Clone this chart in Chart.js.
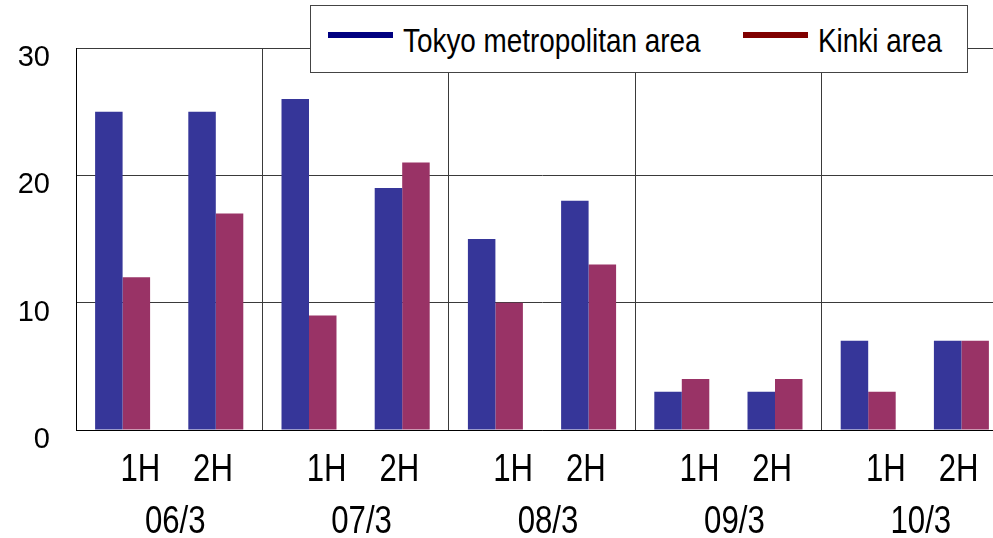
<!DOCTYPE html>
<html>
<head>
<meta charset="utf-8">
<script src="https://cdn.jsdelivr.net/npm/chart.js@4.4.1/dist/chart.umd.min.js"></script>
<style>
  html, body { margin: 0; padding: 0; background: #fff; overflow: hidden; }
  #wrap { position: relative; width: 993px; height: 538px; overflow: hidden; }
  #chart { position: absolute; left: 0; top: 0; }
  .legend {
    position: absolute; left: 310px; top: 5px; width: 658px; height: 68px;
    box-sizing: border-box; border: 1px solid #444; background: #fff;
    font-family: 'Liberation Sans', Arial, sans-serif;
    font-size: 34px; color: #000;
  }
  .legend .item { position: absolute; top: 0; height: 66px; white-space: nowrap; }
  .legend .swatch { position: absolute; top: 26px; width: 65px; height: 6px; }
  .legend .text {
    position: absolute; left: 75px; top: 14px; line-height: 40px;
    transform: scaleX(0.82); transform-origin: 0 0;
  }
</style>
</head>
<body>
<div id="wrap">
  <canvas id="chart" width="1008" height="538"></canvas>
  <div class="legend" id="legend"></div>
</div>
<script>
// Office vacancy by half year - Tokyo metropolitan area vs Kinki area

var years = ['06/3', '07/3', '08/3', '09/3', '10/3'];
var halves = ['1H', '2H'];
var seriesNames = ['Tokyo metropolitan area', 'Kinki area'];
var tokyo = [25, 25, 26, 19, 15, 18, 3, 3, 7, 7];
var kinki = [12, 17, 9, 21, 10, 13, 4, 4, 3, 7];
var yTicks = [0, 10, 20, 30];

var BAR_COLORS = ['#363699', '#993366'];
var LEGEND_COLORS = ['#000080', '#800000'];
var REGULAR = "'Liberation Sans', Arial, sans-serif";
var GRID = '#3a3a3a';
var NARROW_RATIO = 0.82;   // bottom labels are set in a condensed face

// 1H / 2H labels sit a little off the bar centres, shifted toward the middle of each year
var HALF_ANCHOR = [0.69, 1.47];

var categories = [];
years.forEach(function (y) {
  halves.forEach(function (h) { categories.push(y + ' ' + h); });
});

// draws the bottom tick labels squeezed horizontally (canvas maxWidth)
var narrowTicks = {
  id: 'narrowTicks',
  afterDraw: function (chart) {
    var c = chart.ctx;
    var conf = { xh: { dx: 0, base: 51 }, x2: { dx: 6, base: 49 } };
    Object.keys(conf).forEach(function (id) {
      var s = chart.scales[id];
      c.save();
      c.font = '38px ' + REGULAR;
      c.fillStyle = '#000';
      c.textAlign = 'center';
      c.textBaseline = 'alphabetic';
      s.ticks.forEach(function (t, i) {
        var label = t.label;
        var w = c.measureText(label).width;
        c.fillText(label, s.getPixelForTick(i) + conf[id].dx, s.top + conf[id].base, w * NARROW_RATIO);
      });
      c.restore();
    });
  }
};

var ctx = document.getElementById('chart').getContext('2d');
var chart = new Chart(ctx, {
  type: 'bar',
  data: {
    labels: categories,
    datasets: [
      { label: seriesNames[0], data: tokyo, backgroundColor: BAR_COLORS[0], borderWidth: 0 },
      { label: seriesNames[1], data: kinki, backgroundColor: BAR_COLORS[1], borderWidth: 0 }
    ]
  },
  options: {
    responsive: false, animation: false,
    categoryPercentage: 0.59, barPercentage: 1,
    layout: { padding: { top: 48, right: 0, left: 0, bottom: 0 } },
    plugins: { legend: { display: false }, tooltip: { enabled: false } },
    scales: {
      x: {
        weight: 0,
        offset: true,
        grid: {
          offset: true, drawTicks: false, lineWidth: 1,
          // separators only between years
          color: function (c) { return c.index % 2 === 0 ? GRID : 'rgba(0,0,0,0)'; }
        },
        border: { display: true, color: '#000', width: 1 },
        ticks: { display: false },
        afterFit: function (s) { s.height = 0; }
      },
      xh: {
        type: 'linear', position: 'bottom', weight: 1,
        offset: false,
        min: 0, max: categories.length,
        grid: { display: false, drawTicks: false },
        border: { display: false },
        afterBuildTicks: function (s) {
          var t = [];
          years.forEach(function (y, g) {
            HALF_ANCHOR.forEach(function (a) { t.push({ value: g * 2 + a }); });
          });
          s.ticks = t;
        },
        ticks: {
          autoSkip: false, maxRotation: 0, color: 'rgba(0,0,0,0)',
          font: { family: REGULAR, size: 38 },
          callback: function (v, i) { return halves[i % halves.length]; }
        },
        afterFit: function (s) { s.height = 54; }
      },
      x2: {
        type: 'category', position: 'bottom', weight: 2,
        labels: years, offset: true,
        grid: { display: false, drawTicks: false },
        border: { display: false },
        ticks: {
          autoSkip: false, maxRotation: 0, color: 'rgba(0,0,0,0)',
          font: { family: REGULAR, size: 38 }
        },
        afterFit: function (s) { s.height = 54; }
      },
      y: {
        min: 0, max: 30,
        afterBuildTicks: function (s) { s.ticks = yTicks.map(function (v) { return { value: v }; }); },
        grid: { color: GRID, lineWidth: 1, drawTicks: false },
        border: { display: true, color: '#000', width: 1 },
        ticks: {
          padding: 26, labelOffset: 10, color: '#000',
          font: { family: REGULAR, size: 29 }
        },
        afterFit: function (s) { s.width = 76; }
      }
    }
  },
  plugins: [narrowTicks]
});

// legend box built from the dataset list
var legendEl = document.getElementById('legend');
var ITEM_LEFT = [17, 432];
chart.data.datasets.forEach(function (ds, i) {
  var item = document.createElement('div');
  item.className = 'item';
  item.style.left = ITEM_LEFT[i] + 'px';
  var sw = document.createElement('div');
  sw.className = 'swatch';
  sw.style.background = LEGEND_COLORS[i];
  var tx = document.createElement('div');
  tx.className = 'text';
  tx.textContent = ds.label;
  item.appendChild(sw);
  item.appendChild(tx);
  legendEl.appendChild(item);
});
</script>
</body>
</html>
